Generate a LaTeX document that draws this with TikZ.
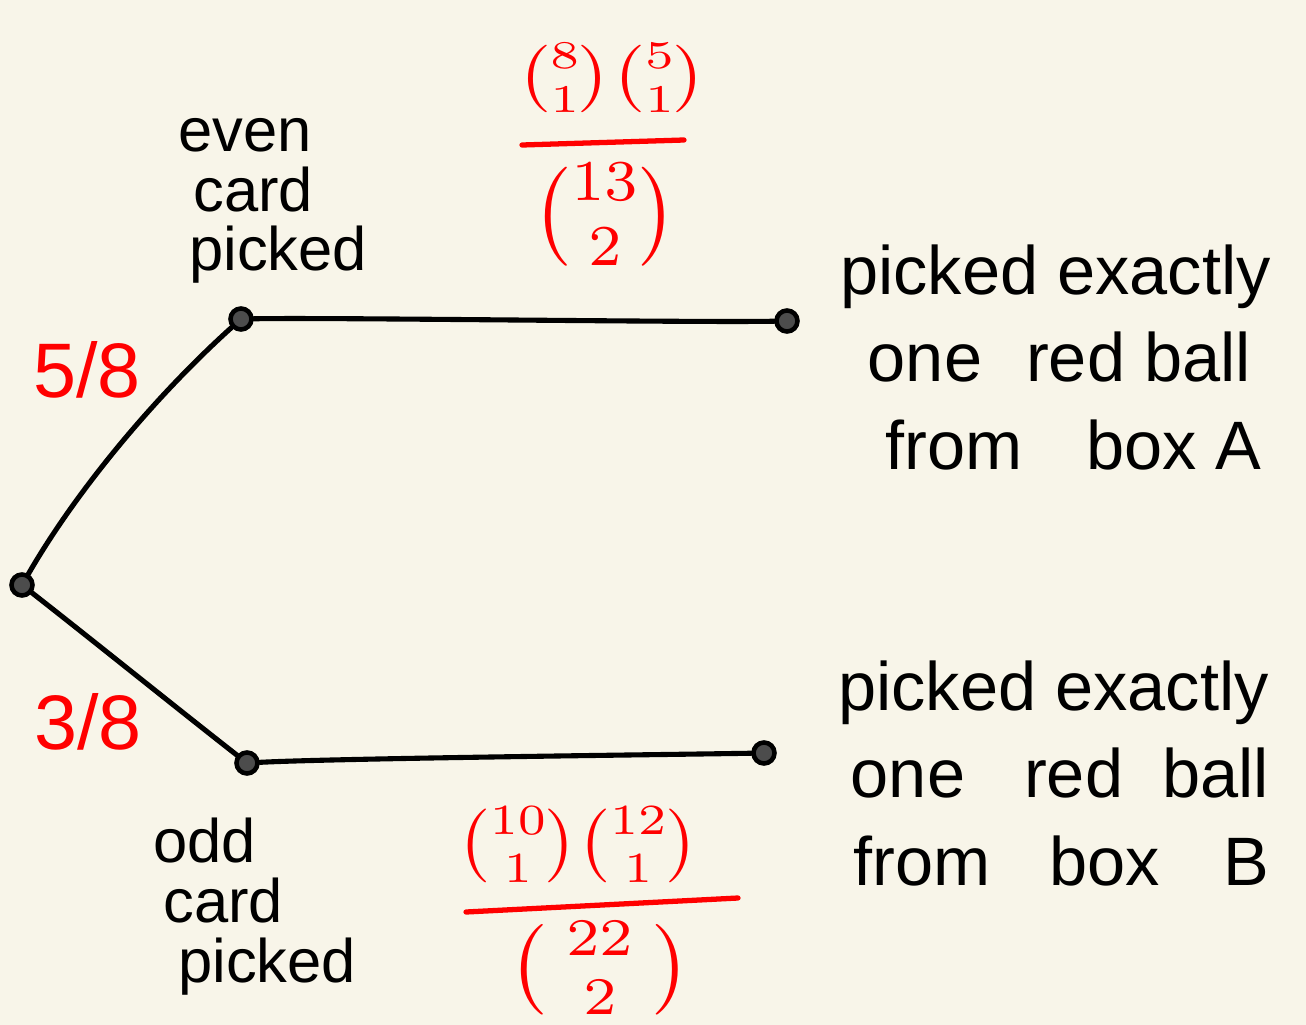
\documentclass[tikz,border=0pt]{standalone}
\usepackage{fontspec}
\setmainfont{Liberation Sans}
\usepackage{amsmath}
\usepackage{graphicx}
\definecolor{bg}{HTML}{F8F5E9}
\definecolor{inkred}{HTML}{FF0000}
\begin{document}
\begin{tikzpicture}[x=0.02cm,y=-0.02cm,
  dot/.style={circle,draw=black,fill=black!70,line width=2.6pt,inner sep=0pt,minimum size=0.42cm},
  edge/.style={draw=black,line width=2.9pt,line cap=round},
  lbl/.style={inner sep=0pt,align=left,anchor=north west,font=\fontsize{39}{50}\selectfont},
  side/.style={inner sep=0pt,align=left,anchor=north west,font=\fontsize{35}{34}\selectfont},
  prob/.style={inner sep=0pt,text=inkred,font=\fontsize{44}{50}\selectfont},
  frac/.style={inner sep=0pt,text=inkred},
  bar/.style={draw=inkred,line width=3pt,line cap=round}]
\fill[bg] (0,0) rectangle (1306,1025);
\useasboundingbox (0,0) rectangle (1306,1025);
% tree points
\node[dot] (root) at (22,585) {};
\node[dot] (even) at (241,319) {};
\node[dot] (endA) at (787,321) {};
\node[dot] (odd) at (247,763) {};
\node[dot] (endB) at (764,753) {};
% branches
\draw[edge] (root) to[out=60,in=222,looseness=0.8] (even);
\draw[edge] (root) to[out=-38,in=142,looseness=0.7] (odd);
\draw[edge] (even) to[out=1,in=181,looseness=0.4] (endA);
\draw[edge] (odd) to[out=3,in=181,looseness=0.4] (endB);
% texts
\node[side] (tEven) at (178,118) {even\\\hspace*{0.3cm}card\\\hspace*{0.22cm}picked};
\node[side] (tOdd) at (153,818) {odd\\\hspace*{0.2cm}card\\\hspace*{0.5cm}picked};
\node[lbl] (tA) at (840,244) {picked exactly\\\hspace*{0.55cm}one\hspace{0.5cm} red ball\\\hspace*{0.9cm}from\hspace{0.9cm} box A};
\node[lbl] (tB) at (838,660) {picked exactly\\\hspace*{0.25cm}one\hspace{0.8cm} red\hspace{0.4cm} ball\\\hspace*{0.3cm}from\hspace{0.8cm} box\hspace{0.9cm} B};
\node[prob] (p58) at (87,370) {5/8};
\node[prob] (p38) at (88,722) {3/8};
% fraction for box A
\node[frac] (numA) at (612,78) {\scalebox{4.1}[3.2]{$\tbinom{8}{1}\tbinom{5}{1}$}};
\coordinate (barAl) at (522,145);
\coordinate (barAr) at (684,140);
\draw[bar] (barAl) -- (barAr);
\node[frac] (denA) at (605,215) {\scalebox{4.8}[4.7]{$\tbinom{13}{2}$}};
% fraction for box B
\node[frac] (numB) at (578,845) {\scalebox{4.0}[3.5]{$\tbinom{10}{1}\tbinom{12}{1}$}};
\coordinate (barBl) at (466,912);
\coordinate (barBr) at (738,898);
\draw[bar] (barBl) -- (barBr);
\node[frac] (denB) at (600,968) {\scalebox{4.8}[4.3]{$\tbinom{\;22\;}{2}$}};
\end{tikzpicture}
\end{document}
